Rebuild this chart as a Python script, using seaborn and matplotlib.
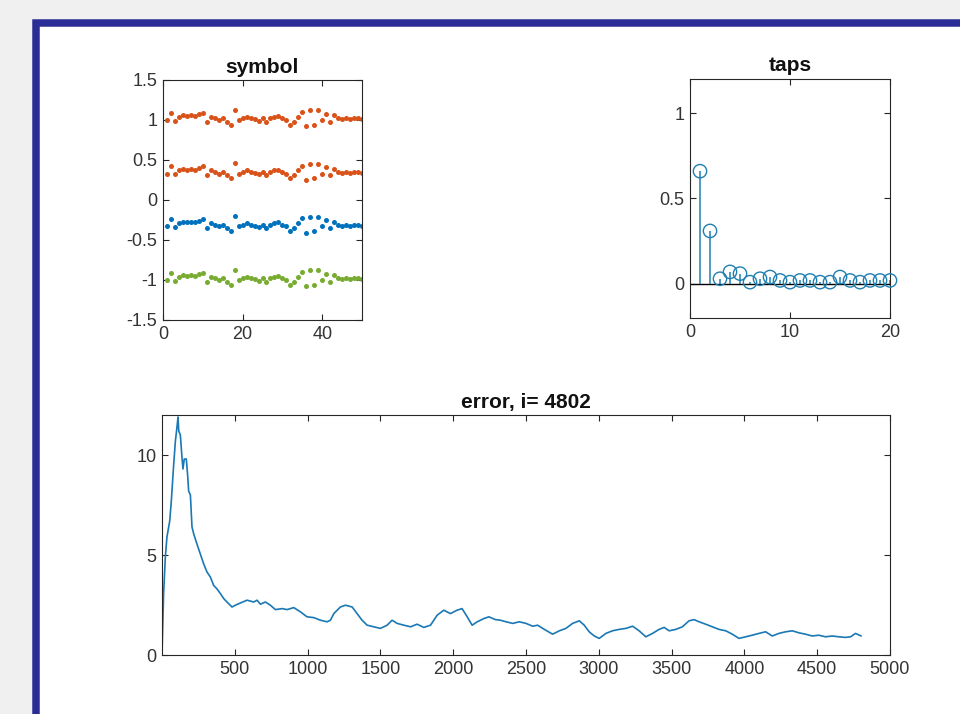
import numpy as np
import pandas as pd
import matplotlib
matplotlib.use("Agg")
import matplotlib.pyplot as plt
from matplotlib.patches import Rectangle
from matplotlib.ticker import FuncFormatter, FixedLocator
import seaborn as sns

# ---------------- data ----------------
sym_n = list(range(1, 51))
sym_row1 = [1.00, 1.09, 0.99, 1.04, 1.06, 1.05, 1.06, 1.05, 1.07, 1.09, 0.98, 1.04, 1.02, 1.00, 1.02,
            0.98, 0.94, 1.13, 1.00, 1.02, 1.04, 1.02, 1.01, 0.99, 1.02, 0.98, 1.02, 1.04, 1.05, 1.02,
            1.00, 0.94, 0.98, 1.04, 1.10, 0.92, 1.12, 0.94, 1.12, 1.00, 1.08, 0.98, 1.06, 1.02, 1.01,
            1.02, 1.01, 1.02, 1.02, 1.01]
sym_row2 = [0.33, 0.42, 0.32, 0.37, 0.39, 0.38, 0.39, 0.38, 0.40, 0.42, 0.31, 0.37, 0.35, 0.33, 0.35,
            0.31, 0.27, 0.46, 0.33, 0.35, 0.37, 0.35, 0.34, 0.32, 0.35, 0.31, 0.35, 0.37, 0.38, 0.35,
            0.33, 0.27, 0.31, 0.37, 0.43, 0.25, 0.45, 0.27, 0.45, 0.33, 0.41, 0.31, 0.39, 0.35, 0.34,
            0.35, 0.34, 0.35, 0.35, 0.34]
sym_row3 = [-0.33, -0.24, -0.34, -0.29, -0.27, -0.28, -0.27, -0.28, -0.26, -0.24, -0.35, -0.29, -0.31,
            -0.33, -0.31, -0.35, -0.39, -0.20, -0.33, -0.31, -0.29, -0.31, -0.32, -0.34, -0.31, -0.35,
            -0.31, -0.29, -0.28, -0.31, -0.33, -0.39, -0.35, -0.29, -0.23, -0.41, -0.21, -0.39, -0.21,
            -0.33, -0.25, -0.35, -0.27, -0.31, -0.32, -0.31, -0.32, -0.31, -0.31, -0.32]
sym_row4 = [-1.00, -0.91, -1.01, -0.96, -0.94, -0.95, -0.94, -0.95, -0.93, -0.91, -1.02, -0.96, -0.98,
            -1.00, -0.98, -1.02, -1.06, -0.87, -1.00, -0.98, -0.96, -0.98, -0.99, -1.01, -0.98, -1.02,
            -0.98, -0.96, -0.95, -0.98, -1.00, -1.06, -1.02, -0.96, -0.90, -1.08, -0.88, -1.06, -0.88,
            -1.00, -0.92, -1.02, -0.94, -0.98, -0.99, -0.98, -0.99, -0.98, -0.98, -0.99]
sym_colors = ["#D95319", "#D95319", "#0072BD", "#77AC30"]

tap_n = list(range(1, 21))
tap_val = [0.66, 0.31, 0.03, 0.07, 0.06, 0.01, 0.03, 0.04, 0.02, 0.01,
           0.02, 0.02, 0.01, 0.01, 0.04, 0.02, 0.01, 0.02, 0.02, 0.02]

err_idx = [0, 11, 23, 34, 53, 64, 80, 92, 103, 110, 115, 126, 137, 144, 153, 167, 176, 183, 195,
           206, 218, 240, 263, 286, 309, 332, 355, 378, 401, 424, 446, 481, 504, 538, 584, 630,
           653, 676, 710, 744, 779, 825, 859, 905, 950, 996, 1042, 1088, 1134, 1157, 1180, 1225,
           1260, 1306, 1340, 1374, 1409, 1455, 1500, 1546, 1580, 1615, 1661, 1707, 1752, 1798,
           1844, 1890, 1935, 1981, 2027, 2061, 2096, 2130, 2165, 2210, 2245, 2290, 2325, 2363,
           2409, 2454, 2500, 2546, 2580, 2626, 2683, 2729, 2774, 2820, 2866, 2900, 2934, 2969,
           3003, 3049, 3094, 3140, 3186, 3232, 3277, 3323, 3369, 3414, 3449, 3483, 3529, 3574,
           3620, 3654, 3689, 3734, 3780, 3826, 3872, 3917, 3963, 4009, 4054, 4100, 4146, 4191,
           4237, 4283, 4329, 4374, 4420, 4466, 4511, 4557, 4603, 4649, 4694, 4729, 4763, 4802]
err_val = [0.0, 3.07, 4.9, 5.9, 6.7, 7.7, 9.5, 10.7, 11.4, 11.9, 11.2, 11.0, 9.9, 9.3, 9.8, 9.8,
           9.0, 8.2, 8.0, 6.4, 6.05, 5.55, 5.06, 4.56, 4.15, 3.9, 3.48, 3.3, 3.07, 2.82, 2.65,
           2.4, 2.49, 2.6, 2.74, 2.65, 2.74, 2.54, 2.65, 2.49, 2.27, 2.32, 2.27, 2.37, 2.16, 1.91,
           1.87, 1.74, 1.66, 1.74, 2.07, 2.40, 2.49, 2.40, 2.07, 1.74, 1.49, 1.41, 1.33, 1.49,
           1.74, 1.58, 1.49, 1.41, 1.54, 1.38, 1.49, 1.99, 2.24, 2.07, 2.24, 2.32, 1.91, 1.49,
           1.66, 1.82, 1.91, 1.77, 1.74, 1.66, 1.58, 1.66, 1.58, 1.44, 1.49, 1.28, 1.04, 1.21,
           1.33, 1.58, 1.71, 1.49, 1.16, 0.95, 0.83, 1.08, 1.21, 1.28, 1.33, 1.44, 1.21, 0.91,
           1.08, 1.28, 1.38, 1.21, 1.28, 1.41, 1.71, 1.77, 1.66, 1.54, 1.41, 1.28, 1.21, 1.04,
           0.83, 0.91, 0.99, 1.08, 1.16, 0.95, 1.08, 1.16, 1.21, 1.11, 1.04, 0.95, 0.99, 0.91,
           0.95, 0.91, 0.88, 0.91, 1.08, 0.95]
err_title = "error, i= 4802"

# ---------------- style ----------------
sns.set_theme(style="white")
plt.rcParams["font.family"] = ["Liberation Sans", "DejaVu Sans"]
TICK_FS = 13
TITLE_FS = 15
plt.rcParams.update({
    "axes.edgecolor": "#262626",
    "axes.linewidth": 0.8,
    "xtick.color": "#262626",
    "ytick.color": "#262626",
    "xtick.labelcolor": "#333333",
    "ytick.labelcolor": "#333333",
    "xtick.direction": "in",
    "ytick.direction": "in",
    "xtick.major.size": 4,
    "ytick.major.size": 4,
    "xtick.major.width": 0.8,
    "ytick.major.width": 0.8,
    "xtick.labelsize": TICK_FS,
    "ytick.labelsize": TICK_FS,
    "xtick.major.pad": 4,
    "ytick.major.pad": 4,
})

W, H = 960, 714
fig = plt.figure(figsize=(W / 100, H / 100), dpi=100)
fig.patch.set_facecolor("#f0f0f0")

# window frame: white panel with a dark blue border
bw = 7.5
fig.add_artist(Rectangle((35.7 / W, -0.1), 1.2, (1 - 22.8 / H) + 0.1,
                         transform=fig.transFigure, facecolor="white",
                         edgecolor="#2a2d96", linewidth=bw * 72 / 100, zorder=-5))

fmt = FuncFormatter(lambda v, p: "%g" % v)


def style_axes(ax):
    ax.tick_params(top=True, right=True, bottom=True, left=True)
    for s in ax.spines.values():
        s.set_visible(True)
        s.set_color("#262626")
        s.set_linewidth(0.8)
    ax.xaxis.set_major_formatter(fmt)
    ax.yaxis.set_major_formatter(fmt)
    ax.set_xlabel("")
    ax.set_ylabel("")


def fpos(l, t, r, b):
    return [l / W, 1 - b / H, (r - l) / W, (b - t) / H]


# symbol subplot
ax1 = fig.add_axes(fpos(163, 80, 362, 320))
for row, c in zip([sym_row1, sym_row2, sym_row3, sym_row4], sym_colors):
    sns.scatterplot(x=sym_n, y=row, ax=ax1, color=c, s=13, linewidth=0, legend=False)
ax1.set_xlim(0, 50)
ax1.set_ylim(-1.5, 1.5)
ax1.xaxis.set_major_locator(FixedLocator([0, 20, 40]))
ax1.yaxis.set_major_locator(FixedLocator([-1.5, -1, -0.5, 0, 0.5, 1, 1.5]))
ax1.set_title("symbol", fontsize=TITLE_FS, fontweight="bold", pad=5, color="#111111")
style_axes(ax1)

# taps subplot (stem)
ax2 = fig.add_axes(fpos(690, 79, 890, 318))
ax2.axhline(0, color="#000000", linewidth=1.0, zorder=1)
ax2.vlines(tap_n, 0, tap_val, color="#1f7fb0", linewidth=1.1, zorder=2)
sns.scatterplot(x=tap_n, y=tap_val, ax=ax2, marker="o", s=92, facecolors="none",
                edgecolor="#1f7fb0", linewidth=1.0, legend=False, zorder=3, clip_on=False)
ax2.set_xlim(0, 20)
ax2.set_ylim(-0.2, 1.2)
ax2.xaxis.set_major_locator(FixedLocator([0, 10, 20]))
ax2.yaxis.set_major_locator(FixedLocator([0, 0.5, 1]))
ax2.set_title("taps", fontsize=TITLE_FS, fontweight="bold", pad=6, color="#111111")
style_axes(ax2)

# error subplot
ax3 = fig.add_axes(fpos(162, 415, 890, 655))
err_df = pd.DataFrame({"i": err_idx, "err": err_val})
sns.lineplot(data=err_df, x="i", y="err", ax=ax3, color="#1a78b4", linewidth=1.2)
ax3.set_xlim(0, 5000)
ax3.set_ylim(0, 12)
ax3.xaxis.set_major_locator(FixedLocator(list(range(500, 5001, 500))))
ax3.yaxis.set_major_locator(FixedLocator([0, 5, 10]))
ax3.set_title(err_title, fontsize=TITLE_FS, fontweight="bold", pad=5, color="#111111")
style_axes(ax3)

fig.savefig("out.png", dpi=100, facecolor=fig.get_facecolor())
